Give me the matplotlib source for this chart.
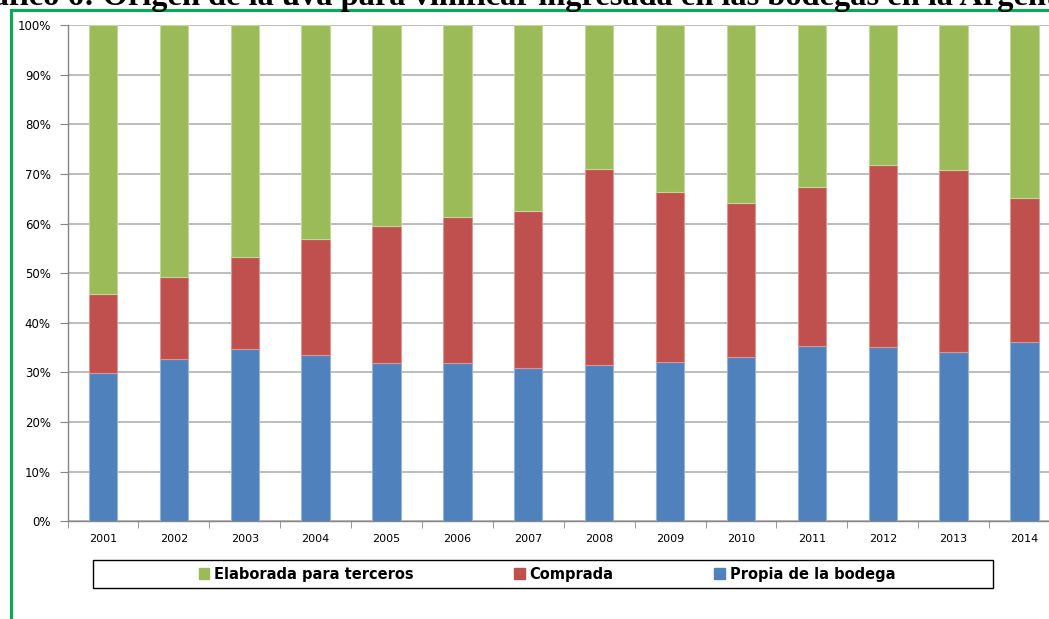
import matplotlib
matplotlib.use('Agg')
import matplotlib.pyplot as plt
import numpy as np
from matplotlib.lines import Line2D
from matplotlib.patches import Rectangle

years = ['2001', '2002', '2003', '2004', '2005', '2006', '2007',
         '2008', '2009', '2010', '2011', '2012', '2013', '2014']
# percentage of grapes entering wineries, by origin
propia = [29.8, 32.7, 34.7, 33.5, 31.9, 31.9, 31.0,
          31.5, 32.1, 33.2, 35.3, 35.1, 34.2, 36.1]
compra_top = [45.9, 49.2, 53.2, 57.0, 59.6, 61.4, 62.6,
              71.0, 66.3, 64.1, 67.4, 71.8, 70.9, 65.1]
comprada = [round(t - p, 1) for t, p in zip(compra_top, propia)]
terceros = [round(100 - t, 1) for t in compra_top]

labels = ['Elaborada para terceros', 'Comprada', 'Propia de la bodega']
colors = ['#9BBB59', '#C0504D', '#4F81BD']
edges = ['#C4D79B', '#DA9694', '#95B3D7']

W, H = 1049, 619
fig = plt.figure(figsize=(W / 100, H / 100), dpi=100)

ax = fig.add_axes([67.5 / W, (H - 521.3) / H, (1060 - 67.5) / W, (521.3 - 25.3) / H])
x = np.arange(len(years))
bw = 0.40
ax.bar(x, propia, bw, color=colors[2], edgecolor=edges[2], linewidth=0.8, zorder=3)
ax.bar(x, comprada, bw, bottom=propia, color=colors[1], edgecolor=edges[1], linewidth=0.8, zorder=3)
ax.bar(x, terceros, bw, bottom=compra_top, color=colors[0], edgecolor=edges[0], linewidth=0.8, zorder=3)

ax.set_xlim(-0.5, len(years) - 0.5)
ax.set_ylim(0, 100)
ax.set_yticks(np.arange(0, 101, 10))
ax.set_yticklabels([f'{v}%' for v in range(0, 101, 10)], fontsize=8.5, family='DejaVu Sans')
ax.set_xticks(x)
ax.set_xticklabels(years, fontsize=8, family='DejaVu Sans')
ax.set_xticks(np.arange(-0.5, len(years), 1), minor=True)
ax.tick_params(axis='x', which='major', length=0, pad=9)
ax.tick_params(axis='x', which='minor', length=5, color='#868686', direction='out')
ax.tick_params(axis='y', length=6, color='#868686', pad=6)
ax.grid(axis='y', color='#B8B8B8', linewidth=1.3, zorder=0)
for s in ['top', 'right']:
    ax.spines[s].set_visible(False)
for s in ['left', 'bottom']:
    ax.spines[s].set_color('#868686')
    ax.spines[s].set_linewidth(1.0)

# legend
fig.patches.append(Rectangle((93 / W, (H - 587.5) / H), 900 / W, 27.5 / H,
                             transform=fig.transFigure, fill=False,
                             edgecolor='black', linewidth=1.0))
handles = [Rectangle((0, 0), 1, 1, color=c) for c in colors]
fig.legend(handles, labels, ncol=3, frameon=False, loc='center',
           bbox_to_anchor=(547 / W, (H - 574) / H),
           prop={'family': 'DejaVu Sans', 'weight': 'bold', 'size': 10.5},
           handlelength=0.7, handleheight=0.75, handletextpad=0.35,
           columnspacing=6.9)

# green frame and cut-off title
fig.add_artist(Line2D([10.5 / W, 10.5 / W], [0, (H - 10) / H], color='#00B050', linewidth=2.2))
fig.add_artist(Line2D([10.5 / W, 1], [(H - 10) / H, (H - 10) / H], color='#00B050', linewidth=2.2))
fig.text(-47 / W, 1 - 5 / H,
         'Gráfico 6: Origen de la uva para vinificar ingresada en las bodegas en la Argentina',
         fontsize=23.3, family='Liberation Serif', weight='bold', va='baseline', ha='left')

fig.savefig('out.png', dpi=100)
